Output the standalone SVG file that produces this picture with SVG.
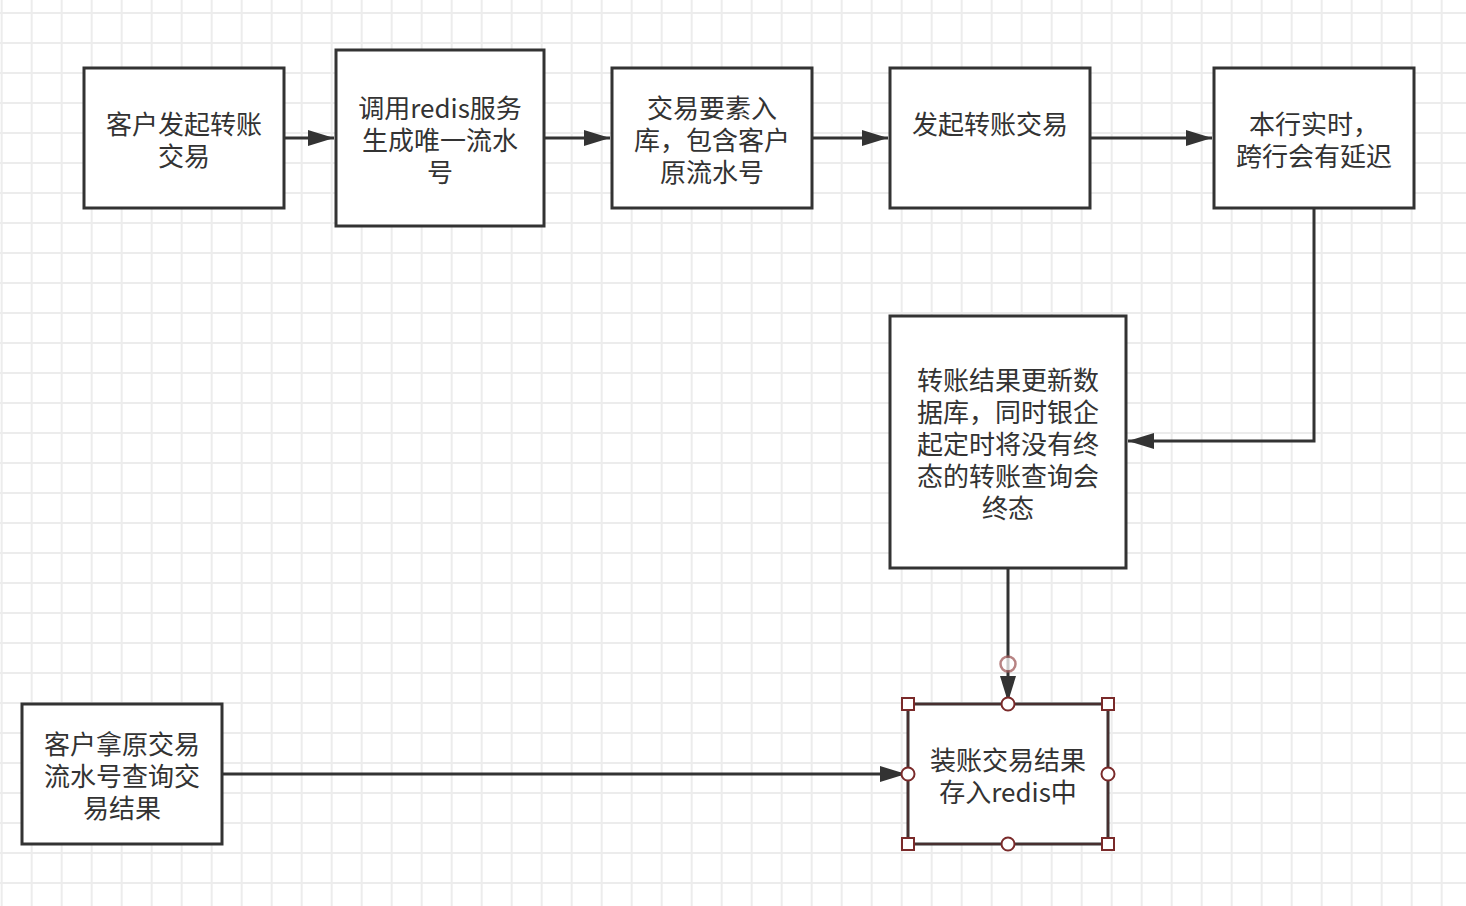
<svg xmlns="http://www.w3.org/2000/svg" width="1466" height="906" viewBox="0 0 1466 906">
<defs>
<pattern id="grid" patternUnits="userSpaceOnUse" x="-13.3" y="-2" width="30" height="30">
<path d="M15 0 V30 M0 15 H30" stroke="#ececec" stroke-width="2" fill="none"/>
</pattern>
<marker id="arr" markerUnits="userSpaceOnUse" markerWidth="28" markerHeight="20" refX="26" refY="8" orient="auto">
<path d="M0 0 L26 8 L0 16 Z" fill="#333"/>
</marker>
<style>
.box{fill:#fff;stroke:#333;stroke-width:3}
.t{font-family:"PingFang SC","Noto Sans CJK SC","Noto Sans",sans-serif;font-size:26px;fill:#333;text-anchor:middle;dominant-baseline:central}
.c{fill:none;stroke:#333;stroke-width:3}
.h{fill:#fff;stroke:#7a2a2a;stroke-width:2}
</style>
</defs>
<rect width="1466" height="906" fill="#fff"/>
<rect width="1466" height="906" fill="url(#grid)"/>
<g id="connectors">
<path class="c" d="M284 138 H334" marker-end="url(#arr)"/>
<path class="c" d="M544 138 H610" marker-end="url(#arr)"/>
<path class="c" d="M812 138 H888" marker-end="url(#arr)"/>
<path class="c" d="M1090 138 H1212" marker-end="url(#arr)"/>
<path class="c" d="M1314 208 V441 H1128" marker-end="url(#arr)"/>
<path class="c" d="M1008 568 V702" marker-end="url(#arr)"/>
<path class="c" d="M222 774 H906" marker-end="url(#arr)"/>
</g>
<g id="n1"><rect class="box" x="84" y="68" width="200" height="140"/><text class="t" x="184" y="122">客户发起转账</text><text class="t" x="184" y="154">交易</text></g>
<g id="n2"><rect class="box" x="336" y="50" width="208" height="176"/><text class="t" x="440" y="106">调用redis服务</text><text class="t" x="440" y="138">生成唯一流水</text><text class="t" x="440" y="170">号</text></g>
<g id="n3"><rect class="box" x="612" y="68" width="200" height="140"/><text class="t" x="712" y="106">交易要素入</text><text class="t" x="712" y="138">库，包含客户</text><text class="t" x="712" y="170">原流水号</text></g>
<g id="n4"><rect class="box" x="890" y="68" width="200" height="140"/><text class="t" x="990" y="122">发起转账交易</text></g>
<g id="n5"><rect class="box" x="1214" y="68" width="200" height="140"/><text class="t" x="1314" y="122">本行实时，</text><text class="t" x="1314" y="154">跨行会有延迟</text></g>
<g id="n6"><rect class="box" x="890" y="316" width="236" height="252"/><text class="t" x="1008" y="378">转账结果更新数</text><text class="t" x="1008" y="410">据库，同时银企</text><text class="t" x="1008" y="442">起定时将没有终</text><text class="t" x="1008" y="474">态的转账查询会</text><text class="t" x="1008" y="506">终态</text></g>
<g id="n7"><rect class="box" x="908" y="704" width="200" height="140"/><text class="t" x="1008" y="758">装账交易结果</text><text class="t" x="1008" y="790">存入redis中</text>
<rect x="908" y="704" width="200" height="140" fill="none" stroke="#7a2a2a" stroke-width="1" opacity="0.6"/>
<rect class="h" x="902" y="698" width="12" height="12"/><rect class="h" x="1102" y="698" width="12" height="12"/><rect class="h" x="902" y="838" width="12" height="12"/><rect class="h" x="1102" y="838" width="12" height="12"/>
<circle class="h" cx="1008" cy="704" r="6.5"/><circle class="h" cx="1008" cy="844" r="6.5"/><circle class="h" cx="908" cy="774" r="6.5"/><circle class="h" cx="1108" cy="774" r="6.5"/>
<circle cx="1008" cy="664" r="7.5" fill="#fff" stroke="#a05a5a" stroke-width="2.5" opacity="0.75"/>
</g>
<g id="n8"><rect class="box" x="22" y="704" width="200" height="140"/><text class="t" x="122" y="742">客户拿原交易</text><text class="t" x="122" y="774">流水号查询交</text><text class="t" x="122" y="806">易结果</text></g>
</svg>
